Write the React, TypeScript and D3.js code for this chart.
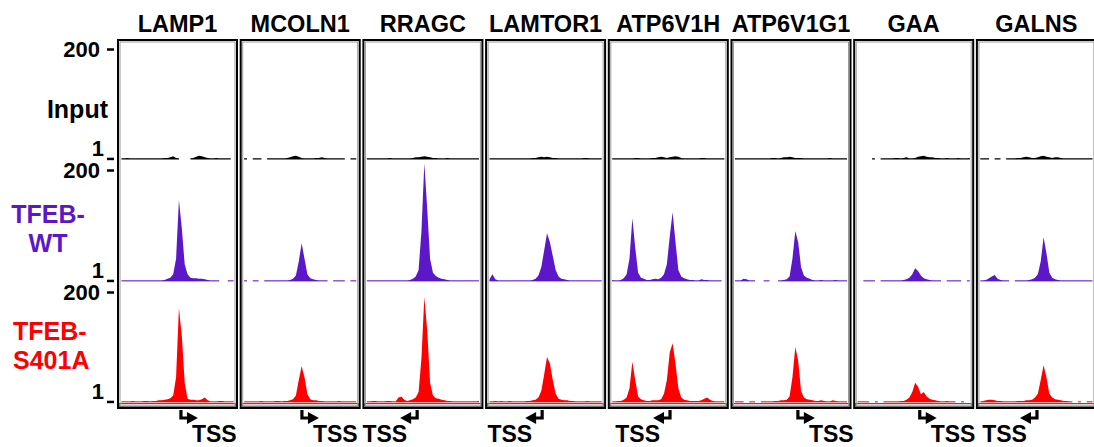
import React, { useRef, useEffect } from 'react';
import * as d3 from 'd3';

// genes (columns) and TSS annotation (position in bins, strand)
const genes = ['LAMP1', 'MCOLN1', 'RRAGC', 'LAMTOR1', 'ATP6V1H', 'ATP6V1G1', 'GAA', 'GALNS'];
const tssPos = [21.2, 20.6, 18.0, 18.8, 20.6, 22.4, 22.1, 20.2];
const tssStrand = [1, 1, -1, -1, -1, 1, 1, -1];
const scaleTicks = [1, 200];

// coverage per 40 bins, 0 = no data
const LAMP1_input = [1,1,2,1,1,1,1,1,1,1, 1,1,1,1,1,2,2,3,5,2, 1,0,0,0,1,2,4,6,5,3, 2,1,1,2,1,1,1,1,1,0];
const LAMP1_wt = [1,1,1,1,1,1,1,1,1,1, 1,1,1,1,1,2,4,6,12,40, 146,95,30,12,6,5,5,4,4,3, 2,1,1,1,1,0,0,1,1,1];
const LAMP1_sa = [1,1,1,1,2,1,1,1,2,2, 1,2,2,3,3,4,5,7,12,45, 171,120,35,6,4,4,3,3,5,8, 3,1,1,1,2,2,1,1,1,1];

const MCOLN1_input = [1,1,0,1,1,1,1,0,1,1, 1,1,1,1,1,2,3,5,6,4, 2,1,1,1,1,2,2,3,2,1, 1,1,1,1,1,1,0,1,1,1];
const MCOLN1_wt = [1,1,0,1,1,1,0,1,1,1, 1,1,1,1,1,1,2,4,10,35, 68,40,12,5,3,2,1,1,1,1, 0,1,1,1,1,1,0,1,1,1];
const MCOLN1_sa = [1,1,1,1,1,1,2,1,1,1, 1,2,2,1,2,2,3,5,12,40, 65,45,14,5,3,3,2,2,1,1, 1,1,1,2,1,1,1,1,1,1];

const RRAGC_input = [1,1,1,1,1,1,1,1,2,1, 1,1,1,1,1,1,2,3,3,4, 5,4,3,2,2,1,1,1,2,1, 1,1,1,1,1,1,1,1,1,1];
const RRAGC_wt = [1,1,1,1,1,1,1,1,1,1, 1,1,1,1,1,2,4,8,20,90, 212,130,40,15,9,6,4,3,2,1, 1,1,1,1,1,1,1,1,1,1];
const RRAGC_sa = [1,1,2,2,1,1,1,2,2,1, 1,8,10,4,2,3,5,8,18,80, 191,130,35,12,7,6,4,3,2,2, 1,1,1,1,1,1,1,1,1,2];

const LAMTOR1_input = [1,1,1,1,1,1,1,1,1,1, 1,1,1,1,1,2,2,3,4,3, 4,3,2,2,1,1,1,1,1,1, 1,1,1,2,2,1,1,1,1,1];
const LAMTOR1_wt = [3,12,3,1,1,1,1,1,1,1, 1,1,1,1,1,2,4,10,25,55, 86,70,45,20,8,4,3,2,1,1, 1,1,1,1,1,1,1,1,1,1];
const LAMTOR1_sa = [1,1,2,1,2,1,1,2,1,1, 1,1,1,2,2,3,4,8,20,50, 82,70,40,15,6,4,3,3,2,2, 1,1,1,1,2,1,1,1,1,1];

const ATP6V1H_input = [1,1,1,1,1,1,1,1,2,2, 1,1,1,1,2,2,3,4,3,2, 3,4,5,4,2,1,1,1,1,1, 1,2,2,1,1,1,1,1,1,1];
const ATP6V1H_wt = [2,1,1,2,5,12,40,113,60,15, 6,4,2,2,3,4,3,6,12,30, 80,124,70,20,8,5,3,2,2,1, 1,3,2,2,1,1,1,1,1,0];
const ATP6V1H_sa = [1,1,2,2,4,8,25,73,40,10, 5,3,2,2,3,3,3,5,15,40, 90,107,70,25,8,4,3,2,2,2, 2,3,6,8,4,2,1,1,1,1];

const ATP6V1G1_input = [1,1,1,1,1,1,1,1,1,1, 1,1,1,2,2,1,2,3,3,4, 3,2,2,2,1,1,1,1,1,1, 1,1,1,2,1,1,1,1,1,1];
const ATP6V1G1_wt = [1,1,1,4,3,1,1,1,0,0, 1,1,1,0,0,1,1,2,3,8, 40,90,70,25,10,6,4,2,1,1, 2,1,1,1,1,2,1,1,1,1];
const ATP6V1G1_sa = [1,1,1,1,0,1,1,1,0,1, 1,1,1,1,2,2,3,3,4,10, 45,100,75,20,8,5,4,3,2,2, 3,2,1,1,3,2,1,1,1,1];

const GAA_input = [0,0,0,0,0,1,1,0,1,1, 1,1,1,2,2,1,2,3,1,1, 2,4,5,6,4,3,3,2,2,1, 1,2,1,1,1,2,1,1,1,2];
const GAA_wt = [0,0,1,1,1,1,1,0,1,1, 1,1,1,1,1,1,2,3,6,12, 23,18,10,5,3,2,1,1,1,1, 0,1,1,1,1,1,1,0,1,1];
const GAA_sa = [1,1,1,1,1,0,1,1,0,1, 1,1,1,1,1,2,2,4,8,18, 35,28,14,18,10,6,4,3,2,1, 1,2,1,1,1,0,1,1,0,1];

const GALNS_input = [1,1,1,1,0,1,1,1,0,1, 1,1,1,2,2,3,4,3,2,2, 3,5,6,4,3,2,3,3,2,1, 1,1,1,1,1,1,1,1,1,1];
const GALNS_wt = [1,1,2,5,8,11,4,2,1,1, 1,0,1,1,1,1,1,2,3,6, 12,35,79,50,15,6,3,2,1,1, 1,1,1,1,1,1,1,1,1,1];
const GALNS_sa = [1,2,3,4,4,3,2,2,1,1, 1,1,1,2,2,2,3,3,4,8, 15,40,67,45,15,8,5,4,3,2, 2,1,1,0,1,1,0,1,1,1];

const inputTracks = [LAMP1_input, MCOLN1_input, RRAGC_input, LAMTOR1_input, ATP6V1H_input, ATP6V1G1_input, GAA_input, GALNS_input];
const wtTracks = [LAMP1_wt, MCOLN1_wt, RRAGC_wt, LAMTOR1_wt, ATP6V1H_wt, ATP6V1G1_wt, GAA_wt, GALNS_wt];
const saTracks = [LAMP1_sa, MCOLN1_sa, RRAGC_sa, LAMTOR1_sa, ATP6V1H_sa, ATP6V1G1_sa, GAA_sa, GALNS_sa];

const FONT = '"Liberation Sans", Arial, Helvetica, sans-serif';

const rows = [
  { tracks: inputTracks, fill: '#000000', base: '#555555', top: 49, bottom: 159 },
  { tracks: wtTracks, fill: '#5c17c9', base: '#a98be6', top: 170, bottom: 281 },
  { tracks: saTracks, fill: '#ff0000', base: '#ff8c8c', top: 292, bottom: 402 },
];

const App: React.FC = () => {
  const svgRef = useRef<SVGSVGElement | null>(null);

  useEffect(() => {
    if (!svgRef.current) return;
    const svg = d3.select(svgRef.current);
    svg.selectAll('*').remove();

    const width = 1094;
    const height = 447;
    svg.attr('width', width).attr('height', height);

    const nb = 40;
    const panelX = d3.scaleLinear().domain([0, 1]).range([118, 240.7]);
    const panelW = 119;
    const boxTop = 40;
    const boxBottom = 408;

    // Row labels
    svg.append('text')
      .attr('x', 108).attr('y', 118)
      .attr('text-anchor', 'end')
      .style('font', `bold 25px ${FONT}`)
      .text('Input');

    svg.append('g')
      .selectAll('text')
      .data(['TFEB-', 'WT'])
      .join('text')
      .attr('x', 48)
      .attr('y', (_, i) => 223 + i * 29)
      .attr('text-anchor', 'middle')
      .style('font', `bold 25px ${FONT}`)
      .style('fill', '#5c17c9')
      .text(d => d);

    svg.append('g')
      .selectAll('text')
      .data(['TFEB-', 'S401A'])
      .join('text')
      .attr('x', 13)
      .attr('y', (_, i) => 340 + i * 29)
      .style('font', `bold 25px ${FONT}`)
      .style('fill', '#ff0000')
      .text(d => d);

    // Y scale ticks per row
    rows.forEach(r => {
      const y = d3.scaleLinear().domain([0, 200]).range([r.bottom, r.top]);
      const ax = svg.append('g')
        .attr('transform', 'translate(114,0)')
        .call(d3.axisLeft(y).tickValues(scaleTicks).tickSize(7).tickPadding(7).tickFormat(d3.format('d')));
      ax.select('.domain').remove();
      ax.selectAll('line').attr('stroke', '#000').attr('stroke-width', 2.5);
      ax.selectAll('text')
        .style('font', `bold 22px ${FONT}`)
        .attr('fill', '#000');
      ax.selectAll<SVGTextElement, number>('text')
        .filter(d => d === 1)
        .attr('dy', '0em')
        .attr('y', -3)
        .attr('x', -10);
    });

    genes.forEach((gene, gi) => {
      const left = panelX(gi);
      const x = d3.scaleLinear().domain([0, nb]).range([left + 2, left + panelW - 2]);
      const g = svg.append('g');

      // title
      g.append('text')
        .attr('x', left + panelW / 2)
        .attr('y', 32)
        .attr('text-anchor', 'middle')
        .style('font', `bold 23.5px ${FONT}`)
        .text(gene);

      // tracks
      rows.forEach(r => {
        const y = d3.scaleLinear().domain([0, 200]).range([r.bottom, r.top]);
        const vals = r.tracks[gi];
        const baseLine = d3.line<number>()
          .defined(v => v > 0)
          .x((_, j) => x(j + 0.5))
          .y(r.bottom);
        g.append('path')
          .attr('d', baseLine(vals) || '')
          .attr('fill', 'none')
          .attr('stroke', r.base)
          .attr('stroke-width', 1.5);
        const area = d3.area<number>()
          .defined(v => v > 0)
          .x((_, j) => x(j + 0.5))
          .y0(r.bottom)
          .y1(v => y(v));
        g.append('path')
          .attr('d', area(vals) || '')
          .attr('fill', r.fill);
      });

      // bottom annotation strip
      g.append('rect')
        .attr('x', left + 1.5).attr('y', 403.5)
        .attr('width', panelW - 3).attr('height', 3)
        .attr('fill', '#d9d9d9')
        .attr('stroke', '#333').attr('stroke-width', 0.8);

      // box
      g.append('rect')
        .attr('x', left).attr('y', boxTop)
        .attr('width', panelW).attr('height', boxBottom - boxTop)
        .attr('fill', 'none')
        .attr('stroke', '#000').attr('stroke-width', 2);
      g.append('rect')
        .attr('x', left + 2).attr('y', boxTop + 2)
        .attr('width', panelW - 4).attr('height', boxBottom - boxTop - 4)
        .attr('fill', 'none')
        .attr('stroke', '#9a9a9a').attr('stroke-width', 1);

      // TSS arrow
      const xs = x(tssPos[gi]);
      const s = tssStrand[gi];
      g.append('path')
        .attr('d', `M${xs},410 V418 H${xs + s * 7}`)
        .attr('fill', 'none')
        .attr('stroke', '#000')
        .attr('stroke-width', 3.2);
      g.append('path')
        .attr('d', `M${xs + s * 6},412 L${xs + s * 17},418 L${xs + s * 6},424 Z`)
        .attr('fill', '#000');
      g.append('text')
        .attr('x', s > 0 ? xs + 11 : xs - 10)
        .attr('y', 442)
        .attr('text-anchor', s > 0 ? 'start' : 'end')
        .style('font', `bold 23px ${FONT}`)
        .text('TSS');
    });
  }, []);

  return (
    <svg
      ref={svgRef}
      style={{ position: 'absolute', left: 0, top: 0, background: '#fff' }}
    />
  );
};

export default App;
